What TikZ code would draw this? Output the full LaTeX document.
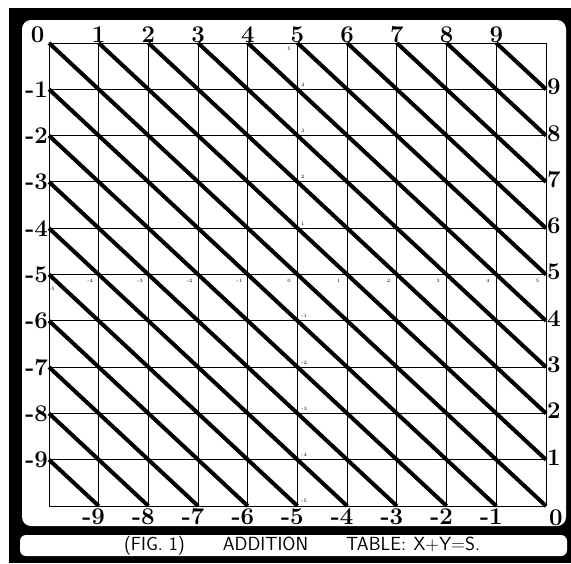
\documentclass[tikz,border=0pt]{standalone}
\usepackage{tikz}
\usepackage{xcolor}

\begin{document}
\begin{tikzpicture}[x=1pt, y=-1pt,
  numlab/.style={font={\bfseries\fontsize{24}{24}\selectfont}, inner sep=1pt},
  tinylab/.style={font={\fontsize{5}{5}\selectfont}, inner sep=0.5pt},
  diag/.style={line width=4pt}]
\useasboundingbox (0,0) rectangle (571,563);
% frame and caption bar
\fill[black] (9,8) rectangle (571,563);
\fill[white, rounded corners=9pt] (22,20) rectangle (566,526);
\fill[white, rounded corners=6pt] (20,535) rectangle (567,556);
\node[font={\sffamily\fontsize{19}{19}\selectfont}] (caption) at (302,546)
  {(FIG. 1)\hspace{2em}ADDITION\hspace{2em}TABLE:\hspace{0.4em}X+Y=S.};

\begin{scope}[shift={(49,43)}, x=49.7pt, y=-46.3pt]
% grid
\foreach \i in {0,...,10} {
  \draw[line width=0.9pt] (\i,0) -- (\i,10);
  \draw[line width=0.9pt] (0,\i) -- (10,\i);
}
\draw[line width=1.8pt] (5,0) -- (5,10);
\draw[line width=1.8pt] (0,5) -- (10,5);
% sums
\draw[diag] (0,0) -- (10,10);
\foreach \i in {1,...,9} {
  \draw[diag] (\i,0) -- (10,{10-\i});
  \draw[diag] (0,\i) -- ({10-\i},10);
}
% edge numbers
\node[numlab] (top0) at (-0.23,-0.17) {0};
\node[numlab] (bot0) at (10.2,10.25) {0};
\foreach \i [evaluate=\i as \r using int(10-\i)] in {1,...,9} {
  \node[numlab, anchor=south] (top\i) at (\i,0.02) {\i};
  \node[numlab, anchor=east] (left\i) at (0,\i) {-\i};
  \node[numlab, anchor=west] (right\i) at (10,{\i-0.05}) {\r};
  \node[numlab, anchor=north east] (bot\i) at ({\i+0.15},10.03) {-\r};
}
% small axis numbers
\node[tinylab] (xs0) at (0.06,5.32) {-5};
\foreach \i [evaluate=\i as \r using int(\i-5)] in {1,...,10}
  \node[tinylab] (xs\i) at ({\i-0.17},5.13) {\r};
\node[tinylab] (ys0) at (4.83,0.12) {5};
\foreach \i [evaluate=\i as \r using int(5-\i)] in {1,2,3,4,6,7,8,9,10}
  \node[tinylab, anchor=west] (ys\i) at (5.06,{\i-0.1}) {\r};
\end{scope}
\end{tikzpicture}
\end{document}
